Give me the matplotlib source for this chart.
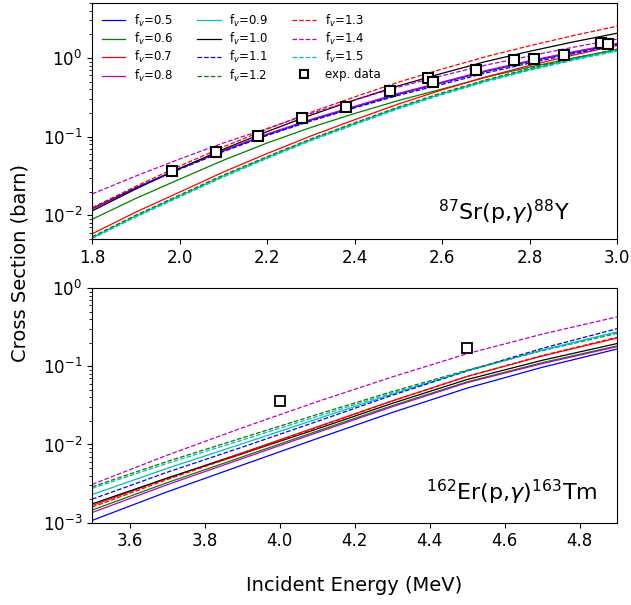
import numpy as np
import matplotlib
matplotlib.use("Agg")
import matplotlib.pyplot as plt
from matplotlib.lines import Line2D

# =========================================================
# DATA : 87Sr(p,g)88Y
# =========================================================

fv_labels = ["0.5", "0.6", "0.7", "0.8", "0.9", "1.0",
             "1.1", "1.2", "1.3", "1.4", "1.5"]

sr_energy = [1.8, 1.9, 2.0, 2.1, 2.2, 2.3, 2.4, 2.5, 2.6, 2.7, 2.8, 2.9, 3.0]

sr_fv05 = [0.0122, 0.0224, 0.0394, 0.0661, 0.106, 0.162, 0.237, 0.347, 0.484, 0.676, 0.902, 1.175, 1.496]
sr_fv06 = [0.00891, 0.0164, 0.0288, 0.0501, 0.0830, 0.131, 0.197, 0.288, 0.403, 0.569, 0.767, 1.0, 1.274]
sr_fv07 = [0.00582, 0.0110, 0.0197, 0.0355, 0.0610, 0.102, 0.164, 0.260, 0.394, 0.575, 0.804, 1.089, 1.445]
sr_fv08 = [0.0119, 0.0221, 0.0394, 0.0668, 0.108, 0.166, 0.243, 0.355, 0.495, 0.692, 0.923, 1.202, 1.531]
sr_fv09 = [0.00519, 0.00977, 0.0176, 0.0316, 0.0543, 0.0912, 0.146, 0.232, 0.351, 0.513, 0.716, 0.962, 1.259]
sr_fv10 = [0.01135, 0.0216, 0.0394, 0.0692, 0.116, 0.188, 0.292, 0.442, 0.638, 0.902, 1.216, 1.603, 2.065]
sr_fv11 = [0.01245, 0.0224, 0.0385, 0.0646, 0.1035, 0.158, 0.232, 0.335, 0.462, 0.646, 0.861, 1.135, 1.462]
sr_fv12 = [0.00534, 0.01004, 0.0181, 0.0325, 0.0558, 0.0938, 0.150, 0.238, 0.361, 0.527, 0.736, 0.989, 1.294]
sr_fv13 = [0.01245, 0.0234, 0.0422, 0.0741, 0.1245, 0.204, 0.320, 0.493, 0.724, 1.040, 1.429, 1.928, 2.541]
sr_fv14 = [0.0187, 0.0316, 0.0519, 0.0832, 0.127, 0.197, 0.292, 0.427, 0.596, 0.813, 1.059, 1.371, 1.738]
sr_fv15 = [0.00505, 0.00951, 0.0171, 0.0307, 0.0528, 0.0887, 0.142, 0.226, 0.342, 0.499, 0.697, 0.936, 1.225]

sr_exp_e = [1.983, 2.083, 2.179, 2.280, 2.380, 2.480, 2.568, 2.579, 2.678, 2.765, 2.810, 2.879, 2.963, 2.979]
sr_exp_s = [0.0368, 0.064, 0.103, 0.175, 0.235, 0.376, 0.55, 0.50, 0.70, 0.94, 0.96, 1.08, 1.54, 1.50]
sr_exp_err = [0.002, 0.003, 0.005, 0.009, 0.012, 0.02, 0.06, 0.03, 0.04, 0.12, 0.05, 0.06, 0.2, 0.08]

# =========================================================
# DATA : 162Er(p,g)163Tm
# =========================================================

er_energy = [3.5, 3.7, 3.9, 4.1, 4.3, 4.5, 4.7, 4.9]

er_fv05 = [0.00107, 0.00248, 0.00545, 0.0119, 0.0256, 0.0525, 0.0968, 0.166]
er_fv06 = [0.00145, 0.00325, 0.00693, 0.0148, 0.0313, 0.0631, 0.111, 0.182]
er_fv07 = [0.00166, 0.00370, 0.00782, 0.0168, 0.0361, 0.0741, 0.135, 0.229]
er_fv08 = [0.00135, 0.00306, 0.00659, 0.0142, 0.0303, 0.0617, 0.108, 0.178]
er_fv09 = [0.00229, 0.00495, 0.01021, 0.0212, 0.0440, 0.0871, 0.161, 0.275]
er_fv10 = [0.00174, 0.00372, 0.00760, 0.0158, 0.0335, 0.0676, 0.119, 0.195]
er_fv11 = [0.00200, 0.00441, 0.00923, 0.0197, 0.0425, 0.0871, 0.169, 0.302]
er_fv12 = [0.00288, 0.00607, 0.01213, 0.0242, 0.0474, 0.0891, 0.158, 0.263]
er_fv13 = [0.00158, 0.00356, 0.00760, 0.0165, 0.0358, 0.0741, 0.137, 0.234]
er_fv14 = [0.00309, 0.00729, 0.0163, 0.0352, 0.0729, 0.1445, 0.257, 0.427]
er_fv15 = [0.00275, 0.00573, 0.01138, 0.0228, 0.0455, 0.0871, 0.159, 0.269]

er_exp_e = [4.0, 4.5]
er_exp_s = [0.036, 0.171]

# =========================================================
# STYLES
# =========================================================

colors = ["b", "g", "r", "m", "c", "k", "b", "g", "r", "m", "c"]
styles = ["-"] * 6 + ["--"] * 5

sr_series = [sr_fv05, sr_fv06, sr_fv07, sr_fv08, sr_fv09, sr_fv10,
             sr_fv11, sr_fv12, sr_fv13, sr_fv14, sr_fv15]
er_series = [er_fv05, er_fv06, er_fv07, er_fv08, er_fv09, er_fv10,
             er_fv11, er_fv12, er_fv13, er_fv14, er_fv15]

fig = plt.figure(figsize=(6.31, 6.05), dpi=100)
ax1 = fig.add_axes([0.146, 0.605, 0.832, 0.390])
ax2 = fig.add_axes([0.146, 0.136, 0.832, 0.388])

# top panel
handles = []
for lab, s, c, ls in zip(fv_labels, sr_series, colors, styles):
    line, = ax1.plot(sr_energy, s, color=c, linestyle=ls, linewidth=0.9,
                     label=r"f$_v$=" + lab)
    handles.append(line)

ax1.errorbar(sr_exp_e, sr_exp_s, yerr=sr_exp_err, fmt="s",
             mfc="white", mec="black", ecolor="black", mew=1.5,
             markersize=7, capsize=0, elinewidth=1.0)

# legend proxy for the data squares
handles.append(Line2D([], [], linestyle="none", marker="s", mfc="white",
                      mec="black", mew=1.5, markersize=6,
                      label="exp. data"))

ax1.set_yscale("log")
ax1.set_xlim(1.8, 3.0)
ax1.set_ylim(5e-3, 5)
ax1.set_xticks([1.8, 2.0, 2.2, 2.4, 2.6, 2.8, 3.0])
ax1.tick_params(labelsize=12)
ax1.text(0.91, 0.114, r"$^{87}$Sr(p,$\gamma$)$^{88}$Y",
         transform=ax1.transAxes, ha="right", va="center", fontsize=16)

ax1.legend(handles=handles, loc="upper left", ncol=3, frameon=False,
           fontsize=8.5, handlelength=2.0, handletextpad=0.75,
           columnspacing=2.0, labelspacing=0.2, borderaxespad=0.4)

# bottom panel
for lab, s, c, ls in zip(fv_labels, er_series, colors, styles):
    ax2.plot(er_energy, s, color=c, linestyle=ls, linewidth=0.9)

ax2.plot(er_exp_e, er_exp_s, "s", mfc="white", mec="black", mew=1.3,
         markersize=7)

ax2.set_yscale("log")
ax2.set_xlim(3.5, 4.9)
ax2.set_ylim(1e-3, 1)
ax2.set_xticks([3.6, 3.8, 4.0, 4.2, 4.4, 4.6, 4.8])
ax2.tick_params(labelsize=12)
ax2.text(0.963, 0.128, r"$^{162}$Er(p,$\gamma$)$^{163}$Tm",
         transform=ax2.transAxes, ha="right", va="center", fontsize=16)

fig.text(0.032, 0.565, "Cross Section (barn)", rotation=90,
         ha="center", va="center", fontsize=14)
fig.text(0.562, 0.032, "Incident Energy (MeV)", ha="center",
         va="center", fontsize=14)

fig.savefig("out.png", dpi=100)
